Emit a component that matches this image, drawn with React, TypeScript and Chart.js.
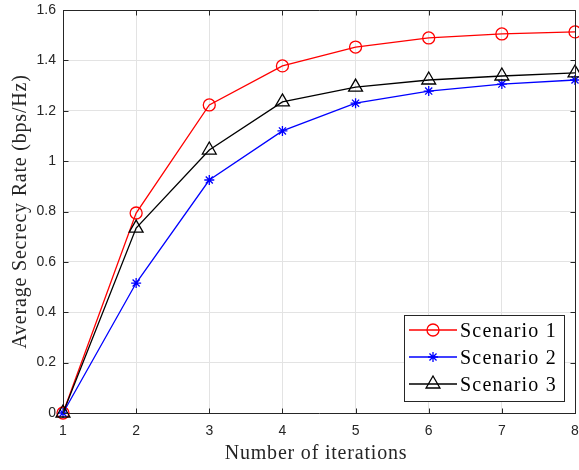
import React, { useEffect, useRef } from 'react';
import { Chart, registerables } from 'chart.js';

Chart.register(...registerables);

// ---- data ----
const iterations = [1, 2, 3, 4, 5, 6, 7, 8];
const scenario1 = [0, 0.794, 1.223, 1.378, 1.453, 1.489, 1.505, 1.513];
const scenario2 = [0, 0.516, 0.925, 1.12, 1.23, 1.278, 1.306, 1.322];
const scenario3 = [0, 0.734, 1.044, 1.235, 1.294, 1.322, 1.338, 1.35];
const seriesNames = ['Scenario 1', 'Scenario 2', 'Scenario 3'];
const seriesColors = ['#ff0000', '#0000ff', '#000000'];
const seriesMarkers = ['circle', 'star', 'triangle'];
const yTickLabels = ['0', '0.2', '0.4', '0.6', '0.8', '1', '1.2', '1.4', '1.6'];
const xTitle = 'Number of iterations';
const yTitle = 'Average Secrecy Rate (bps/Hz)';

const AXIS = '#262626';
const GRID = '#e3e3e3';
const SERIF = '"Liberation Serif", "Times New Roman", serif';
const SANS = '"Liberation Sans", Arial, Helvetica, sans-serif';

function drawMarker(ctx: CanvasRenderingContext2D, kind: string, x: number, y: number, color: string) {
  ctx.save();
  ctx.strokeStyle = color;
  ctx.lineWidth = 1.3;
  ctx.beginPath();
  if (kind === 'circle') {
    ctx.arc(x, y, 6, 0, Math.PI * 2);
  } else if (kind === 'triangle') {
    const r = 8;
    ctx.moveTo(x, y - r);
    ctx.lineTo(x + r * Math.sin(Math.PI / 3 * 2), y + r / 2);
    ctx.lineTo(x - r * Math.sin(Math.PI / 3 * 2), y + r / 2);
    ctx.closePath();
  } else {
    const r = 5;
    for (let i = 0; i < 4; i++) {
      const ang = (i * Math.PI) / 4;
      ctx.moveTo(x - r * Math.cos(ang), y - r * Math.sin(ang));
      ctx.lineTo(x + r * Math.cos(ang), y + r * Math.sin(ang));
    }
  }
  ctx.stroke();
  ctx.restore();
}

const zeroPad = (s: any) => {
  s.paddingLeft = 0;
  s.paddingRight = 0;
  s.paddingTop = 0;
  s.paddingBottom = 0;
};

const overlayPlugin = {
  id: 'overlay',
  afterDraw(chart: any) {
    const { ctx, chartArea: a, scales } = chart;
    const xs = scales.x;
    const ys = scales.y;
    ctx.save();
    ctx.strokeStyle = AXIS;
    ctx.lineWidth = 1;
    const L = Math.round(a.left) + 0.5;
    const R = Math.round(a.right) + 0.5;
    const T = Math.round(a.top) + 0.5;
    const B = Math.round(a.bottom) + 0.5;
    ctx.beginPath();
    ctx.moveTo(L, T);
    ctx.lineTo(R, T);
    ctx.lineTo(R, B);
    ctx.stroke();
    // inward tick marks
    ctx.beginPath();
    xs.ticks.forEach((t: any) => {
      const px = Math.round(xs.getPixelForValue(t.value)) + 0.5;
      ctx.moveTo(px, B);
      ctx.lineTo(px, B - 5);
      ctx.moveTo(px, T);
      ctx.lineTo(px, T + 5);
    });
    ys.ticks.forEach((t: any) => {
      const py = Math.round(ys.getPixelForValue(t.value)) + 0.5;
      ctx.moveTo(L, py);
      ctx.lineTo(L + 5, py);
      ctx.moveTo(R, py);
      ctx.lineTo(R - 5, py);
    });
    ctx.stroke();

    // axis titles
    ctx.fillStyle = AXIS;
    (ctx as any).letterSpacing = '0.8px';
    ctx.font = `20px ${SERIF}`;
    ctx.textAlign = 'center';
    ctx.textBaseline = 'alphabetic';
    ctx.fillText(xTitle, 316, 459);
    ctx.save();
    ctx.translate(26, (a.top + a.bottom) / 2);
    ctx.rotate(-Math.PI / 2);
    ctx.fillText(yTitle, 0, 0);
    ctx.restore();

    // legend
    const bx = 404.5, by = 315.5, bw = 160, bh = 86;
    ctx.fillStyle = '#ffffff';
    ctx.fillRect(bx, by, bw, bh);
    ctx.strokeStyle = AXIS;
    ctx.lineWidth = 1;
    ctx.strokeRect(bx, by, bw, bh);
    (ctx as any).letterSpacing = '1.2px';
    ctx.font = `20px ${SERIF}`;
    ctx.textAlign = 'left';
    seriesNames.forEach((name, i) => {
      const cy = 330 + i * 27;
      ctx.strokeStyle = seriesColors[i];
      ctx.lineWidth = 1.3;
      ctx.beginPath();
      ctx.moveTo(409, cy);
      ctx.lineTo(457, cy);
      ctx.stroke();
      drawMarker(ctx, seriesMarkers[i], 433, cy, seriesColors[i]);
      ctx.fillStyle = '#000000';
      ctx.fillText(name, 460, cy + 6.5);
    });
    (ctx as any).letterSpacing = '0px';
    ctx.restore();
  },
};

export default function App() {
  const canvasRef = useRef<HTMLCanvasElement | null>(null);

  useEffect(() => {
    if (!canvasRef.current) return;
    const series = [scenario1, scenario2, scenario3];
    const chart = new Chart(canvasRef.current, {
      type: 'line',
      data: {
        datasets: series.map((vals, i) => ({
          label: seriesNames[i],
          data: iterations.map((x, j) => ({ x, y: vals[j] })),
          borderColor: seriesColors[i],
          backgroundColor: 'rgba(0,0,0,0)',
          pointBorderColor: seriesColors[i],
          pointBackgroundColor: 'rgba(0,0,0,0)',
          pointStyle: seriesMarkers[i] as any,
          pointRadius: seriesMarkers[i] === 'triangle' ? 8 : seriesMarkers[i] === 'star' ? 5 : 6,
          pointBorderWidth: 1.3,
          borderWidth: 1.3,
          tension: 0,
          fill: false,
          clip: false as any,
          order: 3 - i,
        })),
      },
      options: {
        animation: false,
        responsive: true,
        maintainAspectRatio: false,
        layout: { autoPadding: false, padding: { top: 10, right: 4, left: 0, bottom: 0 } },
        plugins: {
          legend: { display: false },
          tooltip: { enabled: false },
        },
        scales: {
          x: {
            type: 'linear',
            min: 1,
            max: 8,
            ticks: {
              stepSize: 1,
              color: AXIS,
              padding: 10,
              maxRotation: 0,
              font: { family: SANS, size: 14 },
              callback: (v: any) => String(v),
            },
            grid: { color: GRID, drawTicks: false, lineWidth: 1 },
            border: { color: AXIS, width: 1 },
            afterFit: (s: any) => { s.height = 57; zeroPad(s); },
          },
          y: {
            type: 'linear',
            min: 0,
            max: 1.6,
            ticks: {
              stepSize: 0.2,
              color: AXIS,
              padding: 7,
              font: { family: SANS, size: 14 },
              callback: (v: any) => yTickLabels[Math.round(Number(v) / 0.2)] ?? String(v),
            },
            grid: { color: GRID, drawTicks: false, lineWidth: 1 },
            border: { color: AXIS, width: 1 },
            afterFit: (s: any) => { s.width = 63; zeroPad(s); },
          },
        },
      },
      plugins: [overlayPlugin],
    });
    return () => chart.destroy();
  }, []);

  return (
    <div style={{ position: 'absolute', left: 0, top: 0, width: 579, height: 470, background: '#fff' }}>
      <canvas ref={canvasRef} />
    </div>
  );
}
